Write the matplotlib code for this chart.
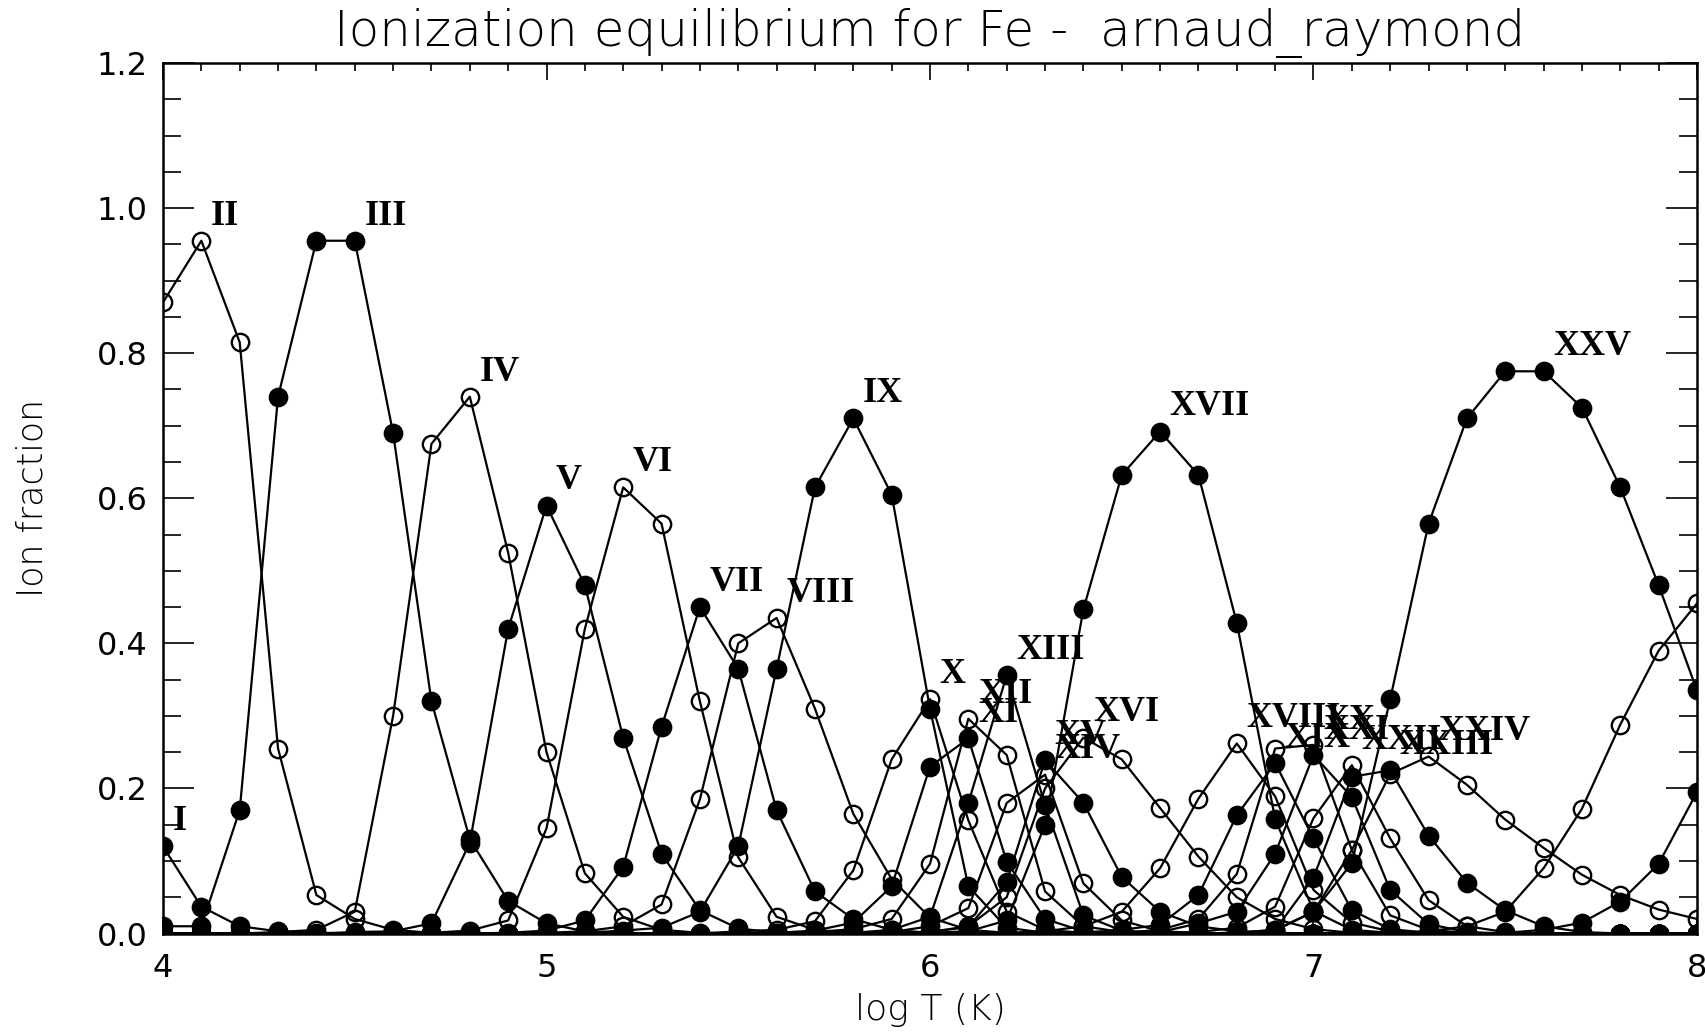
import numpy as np
import matplotlib
matplotlib.use("Agg")
import matplotlib.pyplot as plt
from matplotlib.ticker import MultipleLocator, FixedLocator

# ---------------- data ----------------
LOGT_MIN, LOGT_MAX, N_T = 4.0, 8.0, 41
LOGT = np.linspace(LOGT_MIN, LOGT_MAX, N_T)

ION_NAMES = ["I", "II", "III", "IV", "V", "VI", "VII", "VIII", "IX", "X",
             "XI", "XII", "XIII", "XIV", "XV", "XVI", "XVII", "XVIII", "XIX",
             "XX", "XXI", "XXII", "XXIII", "XXIV", "XXV", "XXVI", "XXVII"]

# (first log T with a non-zero value, fractions from there on; zero elsewhere)
FE_I = (4.0, [0.12, 0.037, 0.01, 0.003, 0.001])
FE_II = (4.0, [0.87, 0.955, 0.815, 0.255, 0.053, 0.02, 0.005, 0.001])
FE_III = (4.0, [0.01, 0.01, 0.17, 0.74, 0.955, 0.955, 0.69, 0.32, 0.13, 0.045, 0.014, 0.003, 0.001])
FE_IV = (4.3, [0.002, 0.005, 0.03, 0.30, 0.675, 0.74, 0.525, 0.25, 0.083, 0.023, 0.005, 0.001])
FE_V = (4.5, [0.002, 0.003, 0.014, 0.125, 0.42, 0.59, 0.48, 0.27, 0.11, 0.032, 0.007, 0.001])
FE_VI = (4.7, [0.001, 0.004, 0.018, 0.145, 0.42, 0.615, 0.565, 0.32, 0.105, 0.023, 0.005, 0.001])
FE_VII = (4.9, [0.001, 0.004, 0.018, 0.092, 0.285, 0.45, 0.365, 0.17, 0.058, 0.02, 0.005, 0.001])
FE_VIII = (5.0, [0.001, 0.003, 0.01, 0.04, 0.185, 0.40, 0.435, 0.31, 0.165, 0.075, 0.022, 0.005, 0.001])
FE_IX = (5.1, [0.001, 0.004, 0.008, 0.03, 0.12, 0.365, 0.615, 0.71, 0.605, 0.31, 0.065, 0.008, 0.001])
FE_X = (5.5, [0.003, 0.005, 0.017, 0.087, 0.24, 0.323, 0.156, 0.03, 0.005, 0.001])
FE_XI = (5.6, [0.001, 0.004, 0.015, 0.065, 0.23, 0.269, 0.099, 0.02, 0.003, 0.001])
FE_XII = (5.7, [0.002, 0.006, 0.02, 0.096, 0.296, 0.246, 0.058, 0.01, 0.002])
FE_XIII = (5.8, [0.001, 0.005, 0.023, 0.18, 0.356, 0.177, 0.025, 0.004, 0.001])
FE_XIV = (5.9, [0.002, 0.01, 0.035, 0.18, 0.219, 0.069, 0.018, 0.003, 0.001])
FE_XV = (6.0, [0.002, 0.009, 0.071, 0.239, 0.18, 0.078, 0.03, 0.01, 0.003, 0.001])
FE_XVI = (6.0, [0.002, 0.01, 0.05, 0.20, 0.27, 0.24, 0.173, 0.106, 0.05, 0.02, 0.006, 0.001])
FE_XVII = (6.0, [0.001, 0.003, 0.018, 0.15, 0.447, 0.632, 0.692, 0.632, 0.428, 0.158, 0.031, 0.005, 0.001])
FE_XVIII = (6.2, [0.001, 0.003, 0.01, 0.03, 0.09, 0.186, 0.262, 0.189, 0.06, 0.015, 0.003, 0.001])
FE_XIX = (6.4, [0.001, 0.005, 0.012, 0.053, 0.163, 0.235, 0.131, 0.032, 0.006, 0.001])
FE_XX = (6.5, [0.001, 0.005, 0.02, 0.082, 0.255, 0.26, 0.115, 0.025, 0.005, 0.001])
FE_XXI = (6.6, [0.002, 0.014, 0.03, 0.11, 0.246, 0.188, 0.06, 0.013, 0.002])
FE_XXII = (6.7, [0.002, 0.008, 0.037, 0.159, 0.232, 0.131, 0.046, 0.01, 0.002])
FE_XXIII = (6.8, [0.001, 0.005, 0.077, 0.216, 0.225, 0.135, 0.07, 0.032, 0.01, 0.002])
FE_XXIV = (6.8, [0.001, 0.004, 0.03, 0.115, 0.22, 0.244, 0.205, 0.157, 0.118, 0.081, 0.053, 0.033, 0.02])
FE_XXV = (6.8, [0.001, 0.005, 0.03, 0.097, 0.323, 0.565, 0.71, 0.775, 0.775, 0.725, 0.615, 0.48, 0.335])
FE_XXVI = (7.2, [0.001, 0.003, 0.01, 0.03, 0.09, 0.172, 0.288, 0.39, 0.455])
FE_XXVII = (7.5, [0.001, 0.005, 0.015, 0.044, 0.096, 0.195])

ION_DATA = [FE_I, FE_II, FE_III, FE_IV, FE_V, FE_VI, FE_VII, FE_VIII, FE_IX,
            FE_X, FE_XI, FE_XII, FE_XIII, FE_XIV, FE_XV, FE_XVI, FE_XVII,
            FE_XVIII, FE_XIX, FE_XX, FE_XXI, FE_XXII, FE_XXIII, FE_XXIV,
            FE_XXV, FE_XXVI, FE_XXVII]

TITLE = "Ionization equilibrium for Fe -  arnaud_raymond"
XLABEL = "log T (K)"
YLABEL = "Ion fraction"
XTICKS = [4, 5, 6, 7, 8]
YTICKS = [0.0, 0.2, 0.4, 0.6, 0.8, 1.0, 1.2]
YTICKLABELS = ["0.0", "0.2", "0.4", "0.6", "0.8", "1.0", "1.2"]


def full_curve(start, vals):
    y = np.zeros(N_T)
    i0 = int(round((start - LOGT_MIN) * 10))
    y[i0:i0 + len(vals)] = vals
    return y


# ---------------- figure ----------------
W, H = 1706, 1032
fig = plt.figure(figsize=(W / 100, H / 100), dpi=100)
fig.patch.set_facecolor("white")
L, R, T, B = 163, 1697, 63, 933.5
ax = fig.add_axes([L / W, 1 - B / H, (R - L) / W, (B - T) / H])

for k, (name, (start, vals)) in enumerate(zip(ION_NAMES, ION_DATA)):
    y = full_curve(start, vals)
    filled = (k % 2 == 0)
    ax.plot(LOGT, y, "-", color="black", lw=1.6, marker="o", ms=12.5,
            mfc="black" if filled else "none", mec="black", mew=1.7,
            clip_on=True)
    idx = len(y) - 1 - int(np.argmax(y[::-1]))
    if idx < len(y) - 1:
        ax.text(LOGT[idx] + 0.025, y[idx] + 0.034, name,
                family="Liberation Serif", weight="bold", fontsize=26,
                ha="left", va="center")

ax.set_xlim(LOGT_MIN, LOGT_MAX)
ax.set_ylim(0, 1.2)
ax.xaxis.set_major_locator(FixedLocator(XTICKS))
ax.set_xticklabels([str(t) for t in XTICKS])
ax.xaxis.set_minor_locator(MultipleLocator(0.1))
ax.yaxis.set_major_locator(FixedLocator(YTICKS))
ax.set_yticklabels(YTICKLABELS)
ax.yaxis.set_minor_locator(MultipleLocator(0.05))

ax.tick_params(which="both", direction="in", top=True, right=True, color="black")
ax.tick_params(axis="x", which="major", length=12, width=1.2, labelsize=23, pad=14)
ax.tick_params(axis="x", which="minor", length=6, width=1.2)
ax.tick_params(axis="y", which="major", length=22, width=1.2, labelsize=23, pad=11)
ax.tick_params(axis="y", which="minor", length=13, width=1.2)
for s in ax.spines.values():
    s.set_linewidth(1.8)

fig.text((L + R) / 2 / W, 1 - 33 / H, TITLE, ha="center", va="center",
         fontsize=36, weight="light")
fig.text((L + R) / 2 / W, 1 - 1010 / H, XLABEL, ha="center", va="center",
         fontsize=26, weight="light")
fig.text(33 / W, 1 - (T + B) / 2 / H, YLABEL, ha="center", va="center",
         rotation=90, fontsize=25, weight="light")

fig.savefig("out.png", dpi=100, facecolor="white")
